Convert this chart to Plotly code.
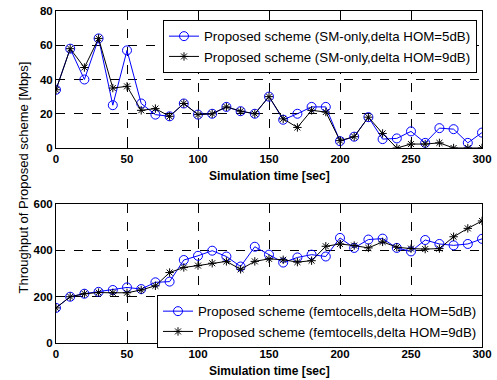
import plotly.graph_objects as go

t = list(range(0, 301, 10))

sm_5db = [34, 58, 40, 64, 25, 57, 26, 19.5, 18.5, 26, 19.5, 20, 24, 21.5, 20, 30,
          16.5, 20, 24, 24, 4, 6.6, 18, 5.2, 5.6, 9.7, 3, 11.6, 11, 3, 9]
sm_9db = [34, 58, 47, 64, 35, 36, 22, 23, 18.5, 26, 19.5, 20, 24, 21.5, 20, 30,
          17, 12, 22, 21, 4.3, 6.6, 18, 8.5, 0, 2.3, 2.3, 3, 0, 0, 0]

femto_5db = [151, 199, 212, 220, 228, 239, 232, 261, 264, 357, 375, 397, 372, 329, 414, 380,
             346, 368, 380, 372, 452, 409, 445, 449, 409, 394, 443, 426, 420, 426, 448]
femto_9db = [151, 199, 212, 217, 216, 216, 228, 246, 303, 325, 333, 343, 351, 317, 351, 362,
             358, 348, 354, 416, 426, 419, 409, 435, 412, 406, 404, 406, 457, 493, 525]

top_ticks = [0, 20, 40, 60, 80]
bot_ticks = [0, 200, 400, 600]
x_ticks = [0, 50, 100, 150, 200, 250, 300]

BLUE = "#0000ff"
BLACK = "#000000"
FONT = "Liberation Sans, Arial"
TICKFONT = dict(family=FONT, size=11.5, color="black", weight="bold")

fig = go.Figure()

fig.add_trace(go.Scatter(x=t, y=sm_5db, mode="lines+markers", name="Proposed scheme (SM-only,delta HOM=5dB)",
                         line=dict(color=BLUE, width=1), marker=dict(symbol="circle-open", size=9, color=BLUE, line=dict(width=1)),
                         xaxis="x", yaxis="y", legend="legend"))
fig.add_trace(go.Scatter(x=t, y=sm_9db, mode="lines+markers", name="Proposed scheme (SM-only,delta HOM=9dB)",
                         line=dict(color=BLACK, width=1), marker=dict(symbol="asterisk-open", size=7, color=BLACK, line=dict(width=1, color=BLACK)),
                         xaxis="x", yaxis="y", legend="legend"))
fig.add_trace(go.Scatter(x=t, y=femto_5db, mode="lines+markers", name="Proposed scheme (femtocells,delta HOM=5dB)",
                         line=dict(color=BLUE, width=1), marker=dict(symbol="circle-open", size=9, color=BLUE, line=dict(width=1)),
                         xaxis="x2", yaxis="y2", legend="legend2"))
fig.add_trace(go.Scatter(x=t, y=femto_9db, mode="lines+markers", name="Proposed scheme (femtocells,delta HOM=9dB)",
                         line=dict(color=BLACK, width=1), marker=dict(symbol="asterisk-open", size=7, color=BLACK, line=dict(width=1, color=BLACK)),
                         xaxis="x2", yaxis="y2", legend="legend2"))

x0, x1 = 56 / 497, 482 / 497
top_dom = [(380 - 148) / 380, (380 - 11) / 380]
bot_dom = [(380 - 343) / 380, (380 - 203.5) / 380]

common_axis = dict(showline=True, linecolor="black", linewidth=1, mirror=True, ticks="inside", ticklen=4,
                   tickcolor="black", showgrid=True, gridcolor="black", griddash="dash", gridwidth=1,
                   zeroline=False, tickfont=TICKFONT, automargin=False)

legend_font = dict(family=FONT, size=13.3, color="black")
xtitle_font = dict(family=FONT, size=12, color="black", weight="bold")

fig.update_layout(
    width=497, height=380,
    margin=dict(l=0, r=0, t=0, b=0, autoexpand=False),
    paper_bgcolor="white", plot_bgcolor="white",
    xaxis=dict(domain=[x0, x1], anchor="y", range=[0, 300], tickvals=x_ticks, **common_axis),
    yaxis=dict(domain=top_dom, anchor="x", range=[0, 80], tickvals=top_ticks, **common_axis),
    xaxis2=dict(domain=[x0, x1], anchor="y2", range=[0, 300], tickvals=x_ticks, **common_axis),
    yaxis2=dict(domain=bot_dom, anchor="x2", range=[0, 600], tickvals=bot_ticks, **common_axis),
    legend=dict(x=163 / 497, y=1 - 20 / 380, xanchor="left", yanchor="top", bgcolor="white",
                bordercolor="black", borderwidth=1, font=legend_font, tracegroupgap=0, itemwidth=30),
    legend2=dict(x=157 / 497, y=1 - 295 / 380, xanchor="left", yanchor="top", bgcolor="white",
                 bordercolor="black", borderwidth=1, font=legend_font, tracegroupgap=0, itemwidth=30),
    annotations=[
        dict(text="Throughput of Proposed scheme [Mbps]", x=13 / 497, y=1 - 178 / 380, xref="paper", yref="paper",
             textangle=-90, showarrow=False, font=dict(family=FONT, size=13, color="black")),
        dict(text="Simulation time [sec]", x=(x0 + x1) / 2, y=1 - 176 / 380, xref="paper", yref="paper",
             showarrow=False, font=xtitle_font, yanchor="middle"),
        dict(text="Simulation time [sec]", x=(x0 + x1) / 2, y=1 - 371 / 380, xref="paper", yref="paper",
             showarrow=False, font=xtitle_font, yanchor="middle"),
    ],
)

fig.write_html("out.html")
